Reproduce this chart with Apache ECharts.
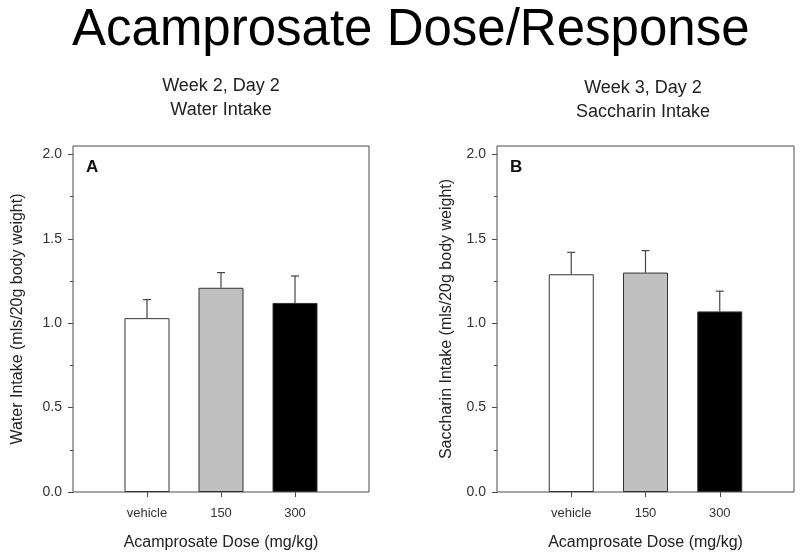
<!DOCTYPE html>
<html>
<head>
<meta charset="utf-8">
<script src="https://cdn.jsdelivr.net/npm/echarts@6/dist/echarts.min.js"></script>
<style>
html,body{margin:0;padding:0;background:#fff;}
#chart{width:800px;height:557px;}
</style>
</head>
<body>
<div id="chart"></div>
<script>
// ---- data ----
var mainTitle = 'Acamprosate Dose/Response';
var categories = ['vehicle', '150', '300'];
var panelATitle = 'Week 2, Day 2\nWater Intake';
var panelBTitle = 'Week 3, Day 2\nSaccharin Intake';
var waterMean = [1.03, 1.21, 1.12];
var waterSem = [0.11, 0.09, 0.16];
var saccharinMean = [1.29, 1.30, 1.07];
var saccharinSem = [0.13, 0.13, 0.12];
var yMajorTicks = [0, 0.5, 1.0, 1.5, 2.0];
var yMinorTicks = [0.25, 0.75, 1.25, 1.75];
var xAxisName = 'Acamprosate Dose (mg/kg)';
var yNameA = 'Water Intake (mls/20g body weight)';
var yNameB = 'Saccharin Intake (mls/20g body weight)';

// ---- styles ----
var FONT = '"Liberation Sans", Arial, Helvetica, sans-serif';
var barFills = ['#ffffff', '#c0c0c0', '#000000'];
var frameColor = '#4a4a4a';

function barData(means) {
  return means.map(function (v, i) {
    return { value: [i + 1, v], itemStyle: { color: barFills[i] } };
  });
}
function errData(means, sems) {
  return means.map(function (v, i) { return [i + 1, v, v + sems[i]]; });
}
function renderErr(params, api) {
  var base = api.coord([api.value(0), api.value(1)]);
  var top = api.coord([api.value(0), api.value(2)]);
  var hw = 4;
  var st = { stroke: '#444', lineWidth: 1.2 };
  return {
    type: 'group',
    children: [
      { type: 'line', shape: { x1: base[0], y1: base[1], x2: top[0], y2: top[1] }, style: st },
      { type: 'line', shape: { x1: top[0] - hw, y1: top[1], x2: top[0] + hw, y2: top[1] }, style: st }
    ]
  };
}
function xAxisFor(gi) {
  return {
    type: 'value', gridIndex: gi, min: 0, max: 4,
    splitLine: { show: false },
    axisLine: { show: false },
    axisTick: { show: true, customValues: [1, 2, 3], length: 5, lineStyle: { color: frameColor } },
    axisLabel: {
      customValues: [1, 2, 3], margin: 15, fontSize: 13, color: '#333', fontFamily: FONT,
      formatter: function (v) { return categories[Math.round(v) - 1] || ''; }
    },
    name: xAxisName, nameLocation: 'middle', nameGap: 43,
    nameTextStyle: { fontSize: 16, color: '#222', fontFamily: FONT }
  };
}
function yMainFor(gi, name, gap) {
  return {
    type: 'value', gridIndex: gi, min: 0, max: 2.05, position: 'left',
    splitLine: { show: false },
    axisLine: { show: false },
    axisTick: { show: true, customValues: yMajorTicks, length: 5, lineStyle: { color: frameColor } },
    axisLabel: {
      customValues: yMajorTicks, margin: 11, fontSize: 14, color: '#333', fontFamily: FONT,
      formatter: function (v) { return v.toFixed(1); }
    },
    name: name, nameLocation: 'middle', nameGap: gap, nameRotate: 90,
    nameTextStyle: { fontSize: 16, color: '#222', fontFamily: FONT }
  };
}
function yMinorFor(gi) {
  return {
    type: 'value', gridIndex: gi, min: 0, max: 2.05, position: 'left', offset: 0,
    splitLine: { show: false },
    axisLine: { show: false },
    axisTick: { show: true, customValues: yMinorTicks, length: 3, lineStyle: { color: frameColor } },
    axisLabel: { show: false }
  };
}

var chart = echarts.init(document.getElementById('chart'), null, { renderer: 'canvas' });
chart.setOption({
  backgroundColor: '#ffffff',
  animation: false,
  title: {
    text: mainTitle, left: 72, top: 5, padding: 0,
    textStyle: { fontSize: 51, fontWeight: 'normal', color: '#000', fontFamily: FONT }
  },
  grid: [
    { left: 73, top: 146, width: 296, height: 346, show: true, borderColor: frameColor, borderWidth: 1, backgroundColor: 'transparent', outerBoundsMode: 'none' },
    { left: 497, top: 146, width: 297, height: 346, show: true, borderColor: frameColor, borderWidth: 1, backgroundColor: 'transparent', outerBoundsMode: 'none' }
  ],
  xAxis: [xAxisFor(0), xAxisFor(1)],
  yAxis: [yMainFor(0, yNameA, 47), yMinorFor(0), yMainFor(1, yNameB, 42), yMinorFor(1)],
  graphic: [
    { type: 'text', x: 221, y: 98.5, style: { text: panelATitle, fontSize: 18, lineHeight: 24, fill: '#222', fontFamily: FONT, align: 'center', verticalAlign: 'middle' } },
    { type: 'text', x: 643, y: 100.5, style: { text: panelBTitle, fontSize: 18, lineHeight: 24, fill: '#222', fontFamily: FONT, align: 'center', verticalAlign: 'middle' } },
    { type: 'text', x: 86, y: 167, style: { text: 'A', fontSize: 17, fontWeight: 'bold', fill: '#111', fontFamily: FONT, align: 'left', verticalAlign: 'middle' } },
    { type: 'text', x: 510, y: 167, style: { text: 'B', fontSize: 17, fontWeight: 'bold', fill: '#111', fontFamily: FONT, align: 'left', verticalAlign: 'middle' } }
  ],
  series: [
    { type: 'bar', xAxisIndex: 0, yAxisIndex: 0, barWidth: 45, data: barData(waterMean),
      itemStyle: { borderColor: '#333', borderWidth: 1 } },
    { type: 'custom', xAxisIndex: 0, yAxisIndex: 0, renderItem: renderErr, data: errData(waterMean, waterSem), z: 5 },
    { type: 'bar', xAxisIndex: 1, yAxisIndex: 2, barWidth: 45, data: barData(saccharinMean),
      itemStyle: { borderColor: '#333', borderWidth: 1 } },
    { type: 'custom', xAxisIndex: 1, yAxisIndex: 2, renderItem: renderErr, data: errData(saccharinMean, saccharinSem), z: 5 }
  ]
});
</script>
</body>
</html>
